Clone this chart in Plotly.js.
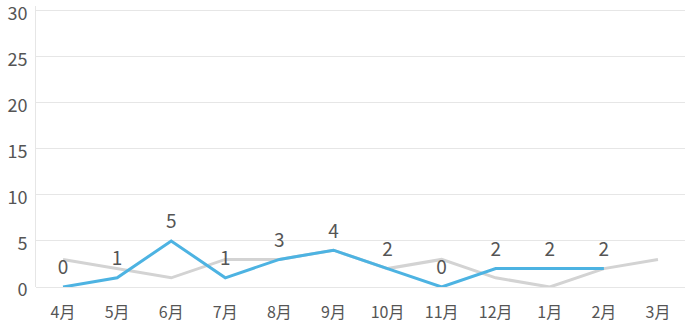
<!DOCTYPE html>
<html><head><meta charset="utf-8">
<script src="https://cdn.plot.ly/plotly-3.0.1.min.js"></script>
<style>html,body{margin:0;padding:0;background:#fff;}#c{width:685px;height:330px;}</style>
</head><body><div id="c"></div>
<script>
const months = ["4月","5月","6月","7月","8月","9月","10月","11月","12月","1月","2月","3月"];
const prevYear = [3,2,1,3,3,4,2,3,1,0,2,3];
const thisYear = [0,1,5,1,3,4,2,0,2,2,2];
const yTicks = [0,5,10,15,20,25,30];

const font = "'Noto Sans CJK JP', 'Noto Sans', sans-serif";
const traces = [
  {x: months, y: prevYear, type: 'scatter', mode: 'lines',
   line: {color: '#d3d3d3', width: 3}, hoverinfo: 'skip'},
  {x: months.slice(0, thisYear.length), y: thisYear, type: 'scatter', mode: 'lines+markers+text',
   text: thisYear.map(String), textposition: 'top center',
   textfont: {family: font, size: 19, color: '#555'},
   marker: {size: 11, color: 'rgba(0,0,0,0)'},
   line: {color: '#4db3e2', width: 3}, hoverinfo: 'skip', cliponaxis: false}
];
const layout = {
  width: 685, height: 330,
  margin: {l: 36, r: 0, t: 6, b: 43},
  showlegend: false,
  paper_bgcolor: '#fff', plot_bgcolor: '#fff',
  font: {family: font, color: '#555', size: 16},
  xaxis: {type: 'category', range: [-0.5, 11.5], showgrid: false, zeroline: false,
          showline: false, ticks: 'outside', ticklen: 11, tickcolor: 'rgba(0,0,0,0)',
          tickfont: {size: 16, color: '#555'}, fixedrange: true},
  yaxis: {range: [0, 30.54], tickvals: yTicks, showgrid: true, gridcolor: '#e6e6e6', gridwidth: 1,
          zeroline: true, zerolinecolor: '#e6e6e6', zerolinewidth: 1,
          showline: true, linecolor: '#e6e6e6', linewidth: 1, ticklabeloverflow: 'allow',
          ticklabelshift: 3,
          ticks: 'outside', ticklen: 4, tickcolor: 'rgba(0,0,0,0)',
          tickfont: {size: 18, color: '#555'}, fixedrange: true}
};
Plotly.newPlot('c', traces, layout, {displayModeBar: false, staticPlot: true});
</script></body></html>
